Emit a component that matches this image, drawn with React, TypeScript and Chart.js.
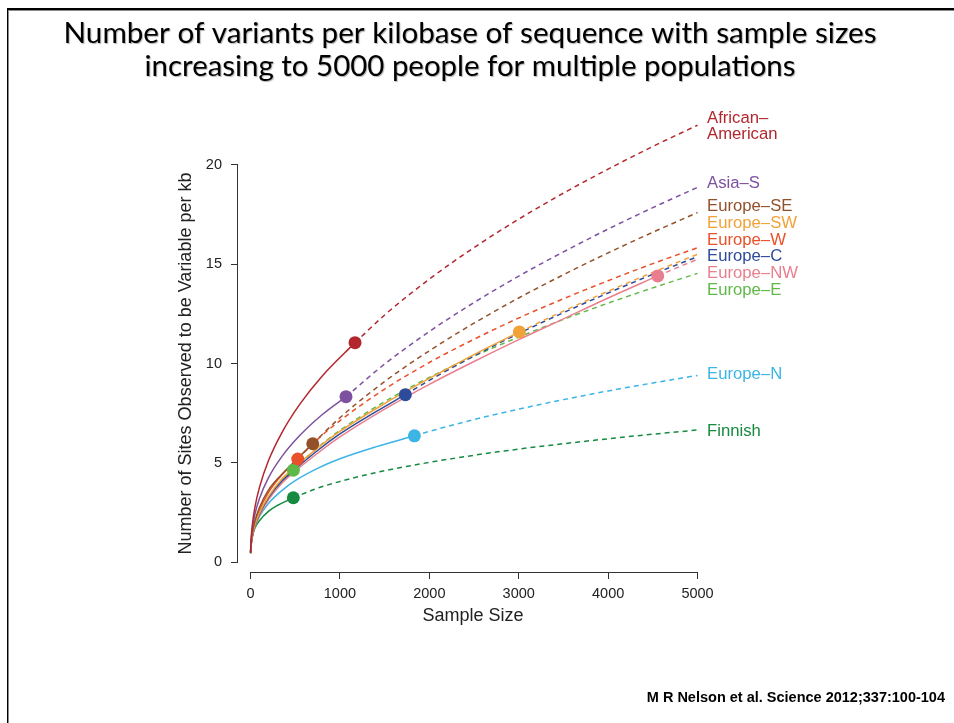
import { useEffect, useRef } from "react";
import { Chart, registerables } from "chart.js";

Chart.register(...registerables);

// ---------- text ----------
const titleLines = [
  "Number of variants per kilobase of sequence with sample sizes",
  "increasing to 5000 people for multiple populations",
];
const footerText = "M R Nelson et al. Science 2012;337:100-104";
const xTitle = "Sample Size";
const yTitle = "Number of Sites Observed to be Variable per kb";

// ---------- ticks ----------
const xTicks = [0, 1000, 2000, 3000, 4000, 5000];
const yTicks = [0, 5, 10, 15, 20];

// ---------- series: [sample size, sites per kb] ----------
const aaSolid = [[1, 0.5], [3, 0.81], [8, 1.24], [20, 1.86], [50, 2.78], [100, 3.76], [200, 5.1], [350, 6.51], [550, 7.94], [800, 9.36], [1169, 11.05]];
const aaDash = [[1169, 11.05], [1500, 12.44], [2000, 14.25], [2500, 15.84], [3000, 17.27], [3500, 18.58], [4000, 19.79], [4500, 20.93], [5000, 22.0]];

const asSolid = [[1, 0.5], [3, 0.78], [8, 1.16], [20, 1.67], [50, 2.42], [100, 3.2], [200, 4.24], [350, 5.31], [550, 6.37], [800, 7.42], [1068, 8.33]];
const asDash = [[1068, 8.33], [1500, 9.97], [2000, 11.61], [2500, 13.07], [3000, 14.4], [3500, 15.62], [4000, 16.77], [4500, 17.85], [5000, 18.87]];

const seSolid = [[1, 0.45], [3, 0.69], [8, 1.0], [20, 1.45], [50, 2.08], [100, 2.75], [200, 3.62], [350, 4.42], [500, 5.1], [696, 5.96]];
const seDash = [[696, 5.96], [1000, 7.27], [1500, 9.09], [2000, 10.64], [2500, 12.03], [3000, 13.3], [3500, 14.47], [4000, 15.57], [4500, 16.61], [5000, 17.6]];

const swSolid = [[1, 0.45], [3, 0.66], [8, 0.93], [20, 1.31], [50, 1.88], [100, 2.48], [200, 3.3], [350, 4.18], [479, 4.72], [750, 5.74], [1000, 6.58], [1500, 7.98], [1732, 8.58], [2000, 9.25], [2500, 10.45], [3007, 11.59]];
const swDash = [[3007, 11.59], [3500, 12.64], [4000, 13.64], [4500, 14.59], [5000, 15.5]];

const wSolid = [[1, 0.45], [3, 0.67], [8, 0.96], [20, 1.37], [50, 1.98], [100, 2.62], [200, 3.5], [350, 4.38], [528, 5.19]];
const wDash = [[528, 5.19], [750, 6.18], [1000, 7.12], [1500, 8.71], [2000, 10.05], [2500, 11.22], [3000, 12.29], [3500, 13.26], [4000, 14.17], [4500, 15.03], [5000, 15.83]];

const cSolid = [[1, 0.45], [3, 0.65], [8, 0.91], [20, 1.28], [50, 1.84], [100, 2.42], [200, 3.23], [350, 4.08], [479, 4.6], [750, 5.62], [1000, 6.45], [1300, 7.3], [1732, 8.43]];
const cDash = [[1732, 8.43], [2000, 9.15], [2500, 10.38], [3000, 11.51], [3500, 12.56], [4000, 13.55], [4500, 14.49], [5000, 15.38]];

const nwSolid = [[1, 0.45], [3, 0.64], [8, 0.89], [20, 1.25], [50, 1.78], [100, 2.35], [200, 3.13], [350, 3.97], [479, 4.5], [750, 5.48], [1000, 6.3], [1500, 7.7], [2000, 8.95], [2500, 10.1], [3000, 11.2], [3500, 12.25], [4000, 13.3], [4555, 14.41]];
const nwDash = [[4555, 14.41], [4800, 14.88], [5000, 15.25]];

const eSolid = [[1, 0.45], [3, 0.65], [8, 0.92], [20, 1.3], [50, 1.86], [100, 2.45], [200, 3.26], [350, 4.08], [479, 4.63]];
const eDash = [[479, 4.63], [750, 5.76], [1000, 6.63], [1500, 8.08], [2000, 9.3], [2500, 10.37], [3000, 11.33], [3500, 12.22], [4000, 13.04], [4500, 13.81], [5000, 14.54]];

const nSolid = [[1, 0.45], [3, 0.66], [8, 0.94], [20, 1.29], [50, 1.79], [100, 2.3], [200, 2.95], [350, 3.6], [500, 4.1], [750, 4.72], [1000, 5.2], [1400, 5.8], [1833, 6.36]];
const nDash = [[1833, 6.36], [2000, 6.58], [2500, 7.18], [3000, 7.7], [3500, 8.18], [4000, 8.62], [4500, 9.02], [5000, 9.4]];

const fiSolid = [[1, 0.45], [3, 0.67], [8, 0.95], [20, 1.3], [50, 1.72], [100, 2.08], [200, 2.55], [300, 2.85], [400, 3.07], [479, 3.24]];
const fiDash = [[479, 3.24], [750, 3.72], [1000, 4.06], [1500, 4.6], [2000, 5.02], [2500, 5.38], [3000, 5.69], [3500, 5.96], [4000, 6.21], [4500, 6.44], [5000, 6.65]];

// ---------- labels (right side) ----------
const labelLines = [["African–", "American"], ["Asia–S"], ["Europe–SE"], ["Europe–SW"], ["Europe–W"], ["Europe–C"], ["Europe–NW"], ["Europe–E"], ["Europe–N"], ["Finnish"]];
const labelY = [[22.35, 21.55], [19.08], [17.93], [17.06], [16.22], [15.38], [14.54], [13.67], [9.47], [6.56]];
const colors = ["#b2272d", "#7e51a0", "#93512a", "#f1a238", "#e9512a", "#2e4b9b", "#e97f8e", "#5fb947", "#3cb4e5", "#178a41"];
const solids = [aaSolid, asSolid, seSolid, swSolid, wSolid, cSolid, nwSolid, eSolid, nSolid, fiSolid];
const dashes = [aaDash, asDash, seDash, swDash, wDash, cDash, nwDash, eDash, nDash, fiDash];

const FONT = "'Liberation Sans', Arial, Helvetica, sans-serif";

const toXY = (arr: number[][]) => arr.map(([x, y]) => ({ x, y }));

const decorPlugin = {
  id: "decor",
  beforeDraw(chart: any) {
    const ctx = chart.ctx;
    ctx.save();
    ctx.fillStyle = "#ffffff";
    ctx.fillRect(0, 0, chart.width, chart.height);
    ctx.restore();
  },
  afterDraw(chart: any) {
    const { ctx, chartArea } = chart;
    const xs = chart.scales.x;
    const ys = chart.scales.y;
    ctx.save();
    // R-style axis lines (from first to last tick)
    ctx.strokeStyle = "#333333";
    ctx.lineWidth = 1;
    ctx.beginPath();
    const bx0 = Math.round(xs.getPixelForValue(xTicks[0]) - 0.5) + 0.5;
    const bx1 = Math.round(xs.getPixelForValue(xTicks[xTicks.length - 1]) - 0.5) + 0.5;
    const by = Math.round(chartArea.bottom) + 0.5;
    ctx.moveTo(bx0, by);
    ctx.lineTo(bx1, by);
    const lx = Math.round(chartArea.left) - 0.5;
    const ly0 = Math.round(ys.getPixelForValue(yTicks[0]) - 0.5) + 0.5;
    const ly1 = Math.round(ys.getPixelForValue(yTicks[yTicks.length - 1]) - 0.5) + 0.5;
    ctx.moveTo(lx, ly0);
    ctx.lineTo(lx, ly1);
    ctx.stroke();

    // series labels
    ctx.font = `16.7px ${FONT}`;
    ctx.textAlign = "left";
    ctx.textBaseline = "middle";
    const labX = xs.getPixelForValue(5000) + 9.5;
    labelLines.forEach((lines, i) => {
      ctx.fillStyle = colors[i];
      lines.forEach((t, j) => {
        ctx.fillText(t, labX, ys.getPixelForValue(labelY[i][j]));
      });
    });

    // title
    ctx.fillStyle = "#000000";
    ctx.font = "29px Lato, 'Open Sans', sans-serif";
    ctx.textAlign = "center";
    ctx.textBaseline = "alphabetic";
    ctx.shadowColor = "rgba(0,0,0,0.3)";
    ctx.shadowOffsetX = 1;
    ctx.shadowOffsetY = 1;
    ctx.shadowBlur = 1;
    const titleW = [813, 651];
    const titleBase = [43, 76];
    titleLines.forEach((t, i) => {
      const w = ctx.measureText(t).width;
      ctx.save();
      ctx.translate(470, titleBase[i]);
      ctx.scale(titleW[i] / w, 1);
      ctx.fillText(t, 0, 0);
      ctx.restore();
    });
    ctx.shadowColor = "rgba(0,0,0,0)";

    // footer
    ctx.font = `bold 14.5px ${FONT}`;
    ctx.textAlign = "right";
    ctx.fillText(footerText, 945, 702);

    // slide frame
    ctx.fillStyle = "#000000";
    ctx.fillRect(7, 8, chart.width - 7, 2);
    ctx.fillRect(7, 8, 1, chart.height - 8);
    ctx.fillStyle = "#8a8a8a";
    ctx.fillRect(8, 10, chart.width - 8, 1);
    ctx.fillRect(8, 10, 1, chart.height - 10);
    ctx.restore();
  },
};

export default function App() {
  const ref = useRef<HTMLCanvasElement | null>(null);
  useEffect(() => {
    if (!ref.current) return;
    const dots = solids.map((s, i) => ({
      type: "line",
      data: toXY([s[s.length - 1]]),
      showLine: false,
      pointRadius: 6.5,
      pointBackgroundColor: colors[i],
      pointBorderWidth: 0,
      pointBorderColor: colors[i],
      clip: false,
    }));
    const solidSets = solids.map((s, i) => ({
      type: "line",
      data: toXY(s),
      borderColor: colors[i],
      borderWidth: 1.5,
      pointRadius: 0,
      cubicInterpolationMode: "monotone",
      fill: false,
      clip: false,
    }));
    const dashSets = dashes.map((s, i) => ({
      type: "line",
      data: toXY(s),
      borderColor: colors[i],
      borderWidth: 1.5,
      borderDash: [5, 4],
      pointRadius: 0,
      cubicInterpolationMode: "monotone",
      fill: false,
      clip: false,
    }));
    const tickFont = { family: FONT, size: 14.5 };
    const chart = new Chart(ref.current, {
      type: "line",
      data: { datasets: [...dots, ...solidSets, ...dashSets] as any },
      options: {
        responsive: false,
        animation: false,
        devicePixelRatio: 1,
        layout: { padding: { left: 0, right: 246, top: 155, bottom: 0 } },
        plugins: { legend: { display: false }, tooltip: { enabled: false }, title: { display: false } },
        scales: {
          x: {
            type: "linear",
            min: -140,
            max: 5117,
            afterBuildTicks: (s: any) => {
              s.ticks = xTicks.map((v) => ({ value: v }));
            },
            afterFit: (s: any) => {
              s.height = 151;
            },
            grid: { display: true, drawOnChartArea: false, drawTicks: true, tickLength: 7, color: "#333333", lineWidth: 1 },
            border: { display: false },
            ticks: { color: "#222222", font: tickFont, padding: 6, maxRotation: 0, autoSkip: false, callback: (v: any) => String(v) },
            title: { display: true, text: xTitle, color: "#222222", font: { family: FONT, size: 18 }, padding: { top: 0, bottom: 96 } },
          },
          y: {
            type: "linear",
            min: -0.5,
            max: 20.5,
            afterBuildTicks: (s: any) => {
              s.ticks = yTicks.map((v) => ({ value: v }));
            },
            afterFit: (s: any) => {
              s.width = 238;
            },
            grid: { display: true, drawOnChartArea: false, drawTicks: true, tickLength: 7, color: "#333333", lineWidth: 1 },
            border: { display: false },
            ticks: { color: "#222222", font: tickFont, padding: 9, autoSkip: false, callback: (v: any) => String(v) },
            title: { display: true, text: yTitle, color: "#222222", font: { family: FONT, size: 18 }, padding: { top: 175, bottom: 0 } },
          },
        },
      } as any,
      plugins: [decorPlugin],
    });
    return () => chart.destroy();
  }, []);
  return (
    <canvas
      ref={ref}
      width={954}
      height={723}
      style={{ position: "fixed", left: 0, top: 0, width: 954, height: 723, display: "block" }}
    />
  );
}
